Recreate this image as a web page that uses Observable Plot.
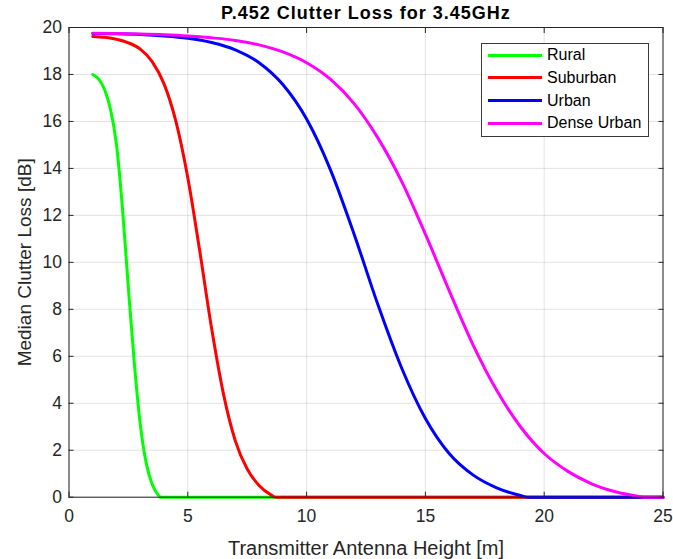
<!DOCTYPE html>
<html><head><meta charset="utf-8">
<script src="https://cdn.jsdelivr.net/npm/d3@7"></script>
<script src="https://cdn.jsdelivr.net/npm/@observablehq/plot@0.6"></script>
<style>
body{margin:0;background:#fff;}
#wrap{position:relative;width:673px;height:559px;font-family:"Liberation Sans",Arial,Helvetica,sans-serif;background:#fff;overflow:hidden;}
#title{height:19px;line-height:27px;font-size:18px;font-weight:bold;text-align:center;padding-left:59px;letter-spacing:1px;color:#000;white-space:nowrap;}
#legend{position:absolute;left:481px;top:42.7px;width:166px;height:92px;border:1px solid #3a3a3a;background:#fff;}
.row{height:22.8px;display:flex;align-items:center;font-size:16px;color:#000;}
.sw{width:54px;height:3px;margin-left:6px;margin-right:5px;}
</style></head>
<body>
<div id="wrap"><div id="title">P.452 Clutter Loss for 3.45GHz</div><div id="chart"></div><div id="legend"></div></div>
<script>
// Values
const ruralHeight = [1, 1.25, 1.5, 1.75, 2, 2.25, 2.5, 2.75, 3, 3.25, 3.5, 3.75, 3.85, 25];
const ruralLoss   = [18.0, 17.8, 17.35, 16.5, 15.0, 12.3, 8.9, 5.7, 3.1, 1.45, 0.55, 0.1, 0, 0];

const suburbanHeight = [1, 1.5, 2, 2.5, 3, 3.5, 4, 4.5, 5, 5.5, 6, 6.5, 7, 7.5, 8, 8.5, 8.7, 25];
const suburbanLoss   = [19.62, 19.58, 19.5, 19.35, 19.08, 18.55, 17.6, 16.0, 13.6, 10.5, 7.2, 4.4, 2.4, 1.2, 0.5, 0.1, 0, 0];

const urbanHeight = [1, 2, 3, 4, 5, 6, 7, 8, 9, 10, 11, 12, 13, 14, 15, 16, 17, 18, 19, 19.3, 25];
const urbanLoss   = [19.74, 19.73, 19.7, 19.64, 19.54, 19.36, 19.05, 18.5, 17.57, 16.1, 13.95, 11.2, 8.2, 5.5, 3.35, 1.86, 0.95, 0.4, 0.07, 0, 0];

const denseHeight = [1, 2, 3, 4, 5, 6, 7, 8, 9, 10, 11, 12, 13, 14, 15, 16, 17, 18, 19, 20, 21, 22, 23, 24, 24.2, 25];
const denseLoss   = [19.75, 19.74, 19.72, 19.69, 19.64, 19.56, 19.45, 19.26, 18.96, 18.5, 17.8, 16.76, 15.3, 13.45, 11.2, 8.8, 6.5, 4.55, 3.0, 1.86, 1.1, 0.57, 0.23, 0.03, 0, 0];

const seriesNames  = ["Rural", "Suburban", "Urban", "Dense Urban"];
const seriesColors = ["#00ff00", "#ff0000", "#0000ff", "#ff00ff"];

const xTicks = [0, 5, 10, 15, 20, 25];
const yTicks = [0, 2, 4, 6, 8, 10, 12, 14, 16, 18, 20];

const titleText = "P.452 Clutter Loss for 3.45GHz";
const xLabel = "Transmitter Antenna Height [m]";
const yLabel = "Median Clutter Loss [dB]";

const toRows = (hs, ls, name) => hs.map((h, i) => ({h, loss: ls[i], type: name}));
const seriesData = [
  toRows(ruralHeight, ruralLoss, seriesNames[0]),
  toRows(suburbanHeight, suburbanLoss, seriesNames[1]),
  toRows(urbanHeight, urbanLoss, seriesNames[2]),
  toRows(denseHeight, denseLoss, seriesNames[3])
];

const axisColor = "#262626";
const plot = Plot.plot({
  width: 673,
  height: 540,
  marginTop: 8,
  marginLeft: 68.5,
  marginRight: 10.5,
  marginBottom: 62.3,
  style: {fontFamily: "'Liberation Sans', Arial, Helvetica, sans-serif", fontSize: "17.5px", color: axisColor, background: "white", overflow: "visible"},
  x: {domain: [0, 25]},
  y: {domain: [0, 20]},
  color: {domain: seriesNames, range: seriesColors},
  marks: [
    Plot.gridX(xTicks, {stroke: axisColor, strokeOpacity: 0.13}),
    Plot.gridY(yTicks, {stroke: axisColor, strokeOpacity: 0.13}),
    ...seriesData.map(d => Plot.line(d, {x: "h", y: "loss", stroke: "type", strokeWidth: 3, curve: "monotone-x"})),
    Plot.frame({stroke: axisColor, strokeWidth: 1}),
    Plot.axisX(xTicks, {anchor: "bottom", tickSize: -5, tickPadding: 17, label: xLabel, labelAnchor: "center", labelOffset: 58, stroke: axisColor}),
    Plot.axisX(xTicks, {anchor: "top", tickSize: -5, tickFormat: () => "", label: null, stroke: axisColor}),
    Plot.axisY(yTicks, {anchor: "left", tickSize: -5, tickPadding: 12, label: yLabel, labelAnchor: "center", labelOffset: 52, stroke: axisColor}),
    Plot.axisY(yTicks, {anchor: "right", tickSize: -5, tickFormat: () => "", label: null, stroke: axisColor})
  ]
});
document.getElementById("chart").appendChild(plot);
d3.select(plot).selectAll('[aria-label="x-axis label"] text').attr("font-size", "20px").text(xLabel);
d3.select(plot).selectAll('[aria-label="y-axis label"] text').attr("font-size", "19px").text(yLabel);
d3.select(plot).selectAll('[aria-label="x-axis tick label"], [aria-label="y-axis tick label"]').attr("fill", axisColor);

const legend = d3.select("#legend");
seriesNames.forEach((name, i) => {
  const row = legend.append("div").attr("class", "row");
  row.append("div").attr("class", "sw").style("background", seriesColors[i]);
  row.append("span").text(name);
});
</script>
</body></html>
